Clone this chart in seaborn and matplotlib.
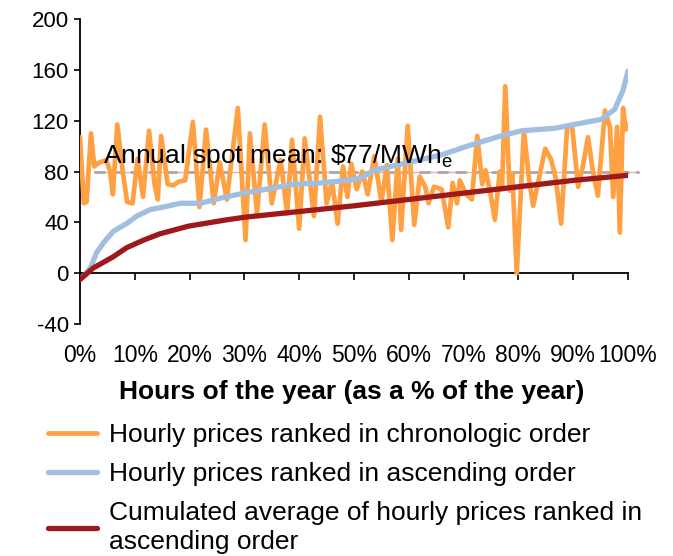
import pandas as pd
import matplotlib.pyplot as plt
import seaborn as sns

# ==============================
# Data
# ==============================
# hourly prices, chronological order (peaks / troughs of the curve)
x_chrono = [0, 0.7, 1.2, 2.0, 2.6, 3.5, 4.8, 5.5, 6.0, 6.8, 7.8, 8.6, 9.6, 10.5,
            11.5, 12.6, 13.6, 14.2, 14.8, 16.0, 17.0, 18.0, 19.2, 20.6, 21.8,
            23.0, 24.4, 25.5, 26.8, 28.8, 30.2, 31.0, 32.3, 33.7, 35.0, 36.6,
            37.8, 38.7, 40.0, 41.0, 42.7, 43.8, 45.0, 46.0, 47.0, 48.0, 48.8,
            49.5, 50.5, 51.5, 52.5, 53.7, 55.0, 56.0, 57.0, 58.0, 58.6, 59.8,
            61.0, 62.0, 63.0, 63.6, 64.6, 66.0, 67.2, 68.0, 68.8, 69.3, 70.5,
            71.5, 72.5, 73.4, 74.0, 74.8, 75.7, 76.6, 77.0, 77.6, 78.4, 78.9,
            79.7, 81.0, 82.0, 82.7, 84.9, 86.0, 86.8, 87.8, 88.9, 89.8, 90.9,
            91.8, 92.7, 93.6, 94.5, 95.8, 96.7, 97.3, 98.0, 98.5, 99.1, 99.6, 100]
y_chrono = [107, 55, 56, 110, 84, 87, 89, 80, 62, 117, 80, 56, 55, 90,
            60, 112, 70, 58, 108, 70, 69, 72, 73, 119, 52,
            113, 55, 87, 58, 130, 26, 110, 47, 117, 55, 89,
            47, 105, 35, 106, 45, 123, 55, 72, 39, 84, 60,
            86, 66, 80, 62, 92, 56, 85, 26, 90, 34, 116,
            38, 76, 68, 55, 68, 66, 36, 71, 55, 73, 62,
            58, 108, 70, 81, 65, 42, 80, 66, 147, 65, 78,
            0, 112, 72, 53, 98, 89, 75, 39, 115, 116, 68,
            85, 107, 80, 61, 128, 115, 60, 115, 32, 130, 113, 117]

# hourly prices, ascending order
x_sorted = [0, 1, 2, 3, 4.3, 6.1, 8.5, 10.4, 12.8, 15.2, 18.3, 22, 25.6, 29.9,
            34, 39, 43.9, 48.8, 51.2, 53.7, 59.8, 65.9, 70.7, 76.8, 80.5, 86.6,
            90.2, 95.1, 97.6, 99.1, 100]
y_sorted = [-5, -1, 5, 16, 24, 33, 39, 45, 50, 52, 55, 55, 59, 63,
            66, 70, 71, 73, 75, 81, 87, 93, 100, 108, 112, 114,
            117, 121, 129, 144, 159]

# cumulated average of the sorted prices
x_cum = [0, 2.4, 6.1, 8.5, 11.6, 14.6, 19.8, 26.8, 30, 40, 50, 60, 70, 80, 90, 100]
y_cum = [-5, 4, 13, 20, 26, 31, 37, 42, 44, 48.5, 53, 58, 63, 68, 73, 77]

spot_mean = 80
x_ticks = [0, 10, 20, 30, 40, 50, 60, 70, 80, 90, 100]
y_ticks = [-40, 0, 40, 80, 120, 160, 200]

labels = ["Hourly prices ranked in chronologic order",
          "Hourly prices ranked in ascending order",
          "Cumulated average of hourly prices ranked in\nascending order"]

# ==============================
# Style
# ==============================
sns.set_theme(style="white")
plt.rcParams["font.family"] = ["Liberation Sans", "DejaVu Sans"]
plt.rcParams["mathtext.fontset"] = "custom"
plt.rcParams["mathtext.rm"] = "Liberation Sans"
plt.rcParams["axes.unicode_minus"] = False
plt.rcParams["text.color"] = "black"
plt.rcParams["xtick.color"] = "black"
plt.rcParams["ytick.color"] = "black"

c_orange = "#FFA043"
c_blue = "#A2BFE1"
c_red = "#9E1A1A"

fig = plt.figure(figsize=(6.73, 5.56), dpi=100)
ax = fig.add_axes([80 / 673, 1 - 324 / 556, (628 - 80) / 673, (324 - 19) / 556])

# mean line (pink under grey dashes)
ax.plot([2.5, 102], [spot_mean, spot_mean], color="#F4A9A9", lw=1, clip_on=False, zorder=1)
ax.plot([2.5, 102], [spot_mean, spot_mean], color="#A8A8A8", lw=2, ls=(0, (4, 2.5)),
        clip_on=False, zorder=1)

df1 = pd.DataFrame({"x": x_chrono, "y": y_chrono})
df2 = pd.DataFrame({"x": x_sorted, "y": y_sorted})
df3 = pd.DataFrame({"x": x_cum, "y": y_cum})

sns.lineplot(data=df1, x="x", y="y", ax=ax, color=c_orange, lw=3.4, sort=False,
             label=labels[0], zorder=3, solid_joinstyle="round")
sns.lineplot(data=df2, x="x", y="y", ax=ax, color=c_blue, lw=3.8, sort=False,
             label=labels[1], zorder=4)
sns.lineplot(data=df3, x="x", y="y", ax=ax, color=c_red, lw=3.8, sort=False,
             label=labels[2], zorder=5)

ax.text(4.2, 86.5, r"Annual spot mean: \$77/MWh$_\mathregular{e}$", fontsize=19,
        color="black", va="baseline", ha="left", zorder=6)

# axes
ax.set_xlim(0, 100)
ax.set_ylim(-40, 200)
ax.set_xticks(x_ticks)
ax.set_xticklabels([f"{t}%" for t in x_ticks])
ax.set_yticks(y_ticks)
ax.spines["top"].set_visible(False)
ax.spines["right"].set_visible(False)
ax.spines["bottom"].set_position(("data", 0))
for s in ["left", "bottom"]:
    ax.spines[s].set_color("black")
    ax.spines[s].set_linewidth(1.3)
ax.tick_params(axis="y", direction="out", length=4, width=1.2, color="black",
               labelcolor="black", labelsize=16, pad=4, left=True)
ax.tick_params(axis="x", direction="out", length=5, width=1.2, color="black",
               labelcolor="black", labelsize=16.5, pad=46, bottom=True)
ax.set_xlabel("")
ax.set_ylabel("")
ax.grid(False)

fig.text((80 + 628) / 2 / 673 - 0.003, 1 - 392 / 556, "Hours of the year (as a % of the year)",
         ha="center", va="center", fontsize=19, fontweight="bold", color="black")

handles, labs = ax.get_legend_handles_labels()
ax.get_legend().remove()
leg = fig.legend(handles, labs, loc="upper left", bbox_to_anchor=(48 / 673, 1 - 423 / 556),
                 frameon=False, fontsize=19, handlelength=1.85, handletextpad=0.45,
                 labelspacing=0.56, borderpad=0, borderaxespad=0)
for t in leg.get_texts():
    t.set_linespacing(1.3)
    t.set_color("black")

plt.savefig("out.png", dpi=100)
